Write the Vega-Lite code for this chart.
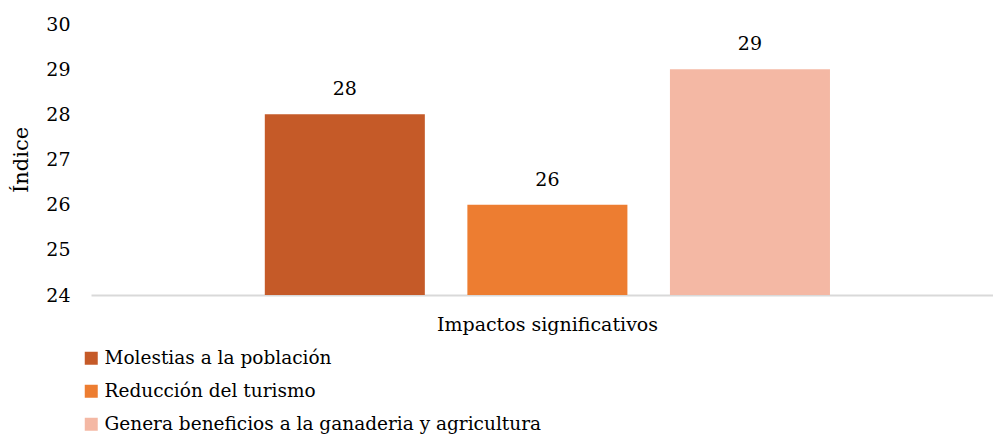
{
  "$schema": "https://vega.github.io/schema/vega-lite/v6.json",
  "autosize": "none",
  "padding": {"left": 91, "top": 24, "right": 0, "bottom": 140},
  "width": 902,
  "height": 271,
  "background": "white",
  "config": {
    "font": "DejaVu Serif",
    "view": {"stroke": null}
  },
  "data": {
    "values": [
      {"grupo": "Impactos significativos", "serie": "Molestias a la población", "valor": 28},
      {"grupo": "Impactos significativos", "serie": "Reducción del turismo", "valor": 26},
      {"grupo": "Impactos significativos", "serie": "Genera beneficios a la ganaderia y agricultura", "valor": 29}
    ]
  },
  "encoding": {
    "x": {
      "field": "grupo", "type": "nominal",
      "scale": {"paddingInner": 0, "paddingOuter": 0.298, "align": 0.516},
      "axis": {
        "title": "Impactos significativos", "labels": false, "ticks": false,
        "domainColor": "#d9d9d9", "domainWidth": 2,
        "titleFont": "DejaVu Serif", "titleFontSize": 19, "titleFontWeight": "normal",
        "titleColor": "#000000", "titlePadding": 20, "titleX": 456
      }
    },
    "xOffset": {
      "field": "serie", "type": "nominal",
      "sort": ["Molestias a la población", "Reducción del turismo", "Genera beneficios a la ganaderia y agricultura"],
      "scale": {"paddingInner": 0.21, "paddingOuter": 0}
    },
    "y": {
      "field": "valor", "type": "quantitative",
      "scale": {"domain": [24, 30], "zero": false, "nice": false},
      "axis": {
        "title": "Índice", "values": [24, 25, 26, 27, 28, 29, 30],
        "grid": false, "domain": false, "ticks": false,
        "labelFont": "DejaVu Serif", "labelFontSize": 19, "labelColor": "#000000", "labelPadding": 21,
        "titleFont": "DejaVu Serif", "titleFontSize": 21, "titleFontWeight": "normal",
        "titleColor": "#000000", "titlePadding": 14
      }
    }
  },
  "layer": [
    {
      "mark": {"type": "bar", "clip": true},
      "encoding": {
        "color": {
          "field": "serie", "type": "nominal",
          "sort": ["Molestias a la población", "Reducción del turismo", "Genera beneficios a la ganaderia y agricultura"],
          "scale": {
            "domain": ["Molestias a la población", "Reducción del turismo", "Genera beneficios a la ganaderia y agricultura"],
            "range": ["#C55A28", "#ED7D31", "#F4B8A4"]
          },
          "legend": {
            "title": null, "orient": "none", "direction": "vertical",
            "legendX": -9, "legendY": 325,
            "symbolType": "square", "symbolSize": 169, "symbolStrokeWidth": 0,
            "labelFont": "DejaVu Serif", "labelFontSize": 18.5, "labelColor": "#000000",
            "labelOffset": 4, "rowPadding": 14, "labelLimit": 600
          }
        }
      }
    },
    {
      "mark": {"type": "text", "dy": -25, "font": "DejaVu Serif", "fontSize": 19, "color": "#000000"},
      "encoding": {"text": {"field": "valor", "type": "quantitative"}}
    }
  ]
}
